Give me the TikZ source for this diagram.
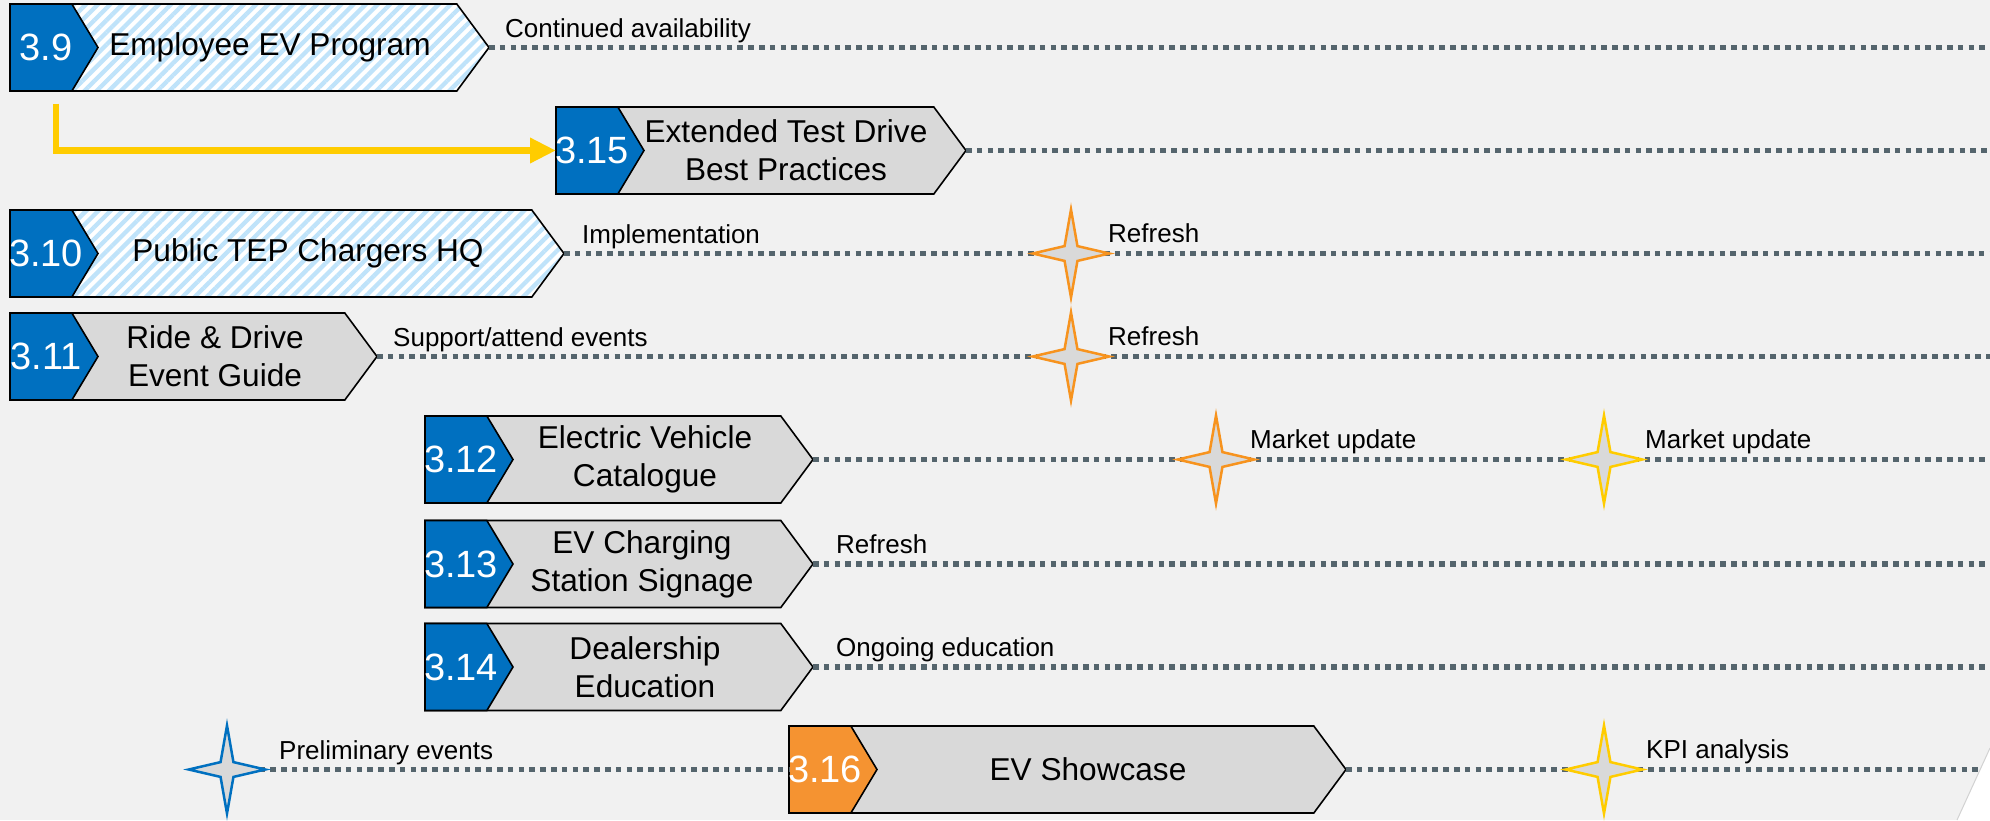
\documentclass[tikz,border=0pt]{standalone}
\usepackage{fontspec}
\setmainfont{Liberation Sans}
\usetikzlibrary{arrows.meta,positioning,shapes.symbols,shapes.geometric,patterns.meta}
\definecolor{numblue}{HTML}{0070C0}
\definecolor{numorange}{HTML}{F59331}
\definecolor{bodygray}{HTML}{D9D9D9}
\definecolor{pagegray}{HTML}{F1F1F1}
\definecolor{hatchblue}{HTML}{BFE3FA}
\definecolor{trackgray}{HTML}{55656D}
\definecolor{starorange}{HTML}{F7931E}
\definecolor{staryellow}{HTML}{FFCC00}

\begin{document}
\begin{tikzpicture}[
  x=1pt, y=-1pt,
  font=\fontsize{26}{30}\selectfont,
  chevron/.style={signal, signal to=east, signal from=nowhere, draw=black, line width=1.6pt, minimum height=87pt, inner sep=0pt, outer sep=0pt, anchor=west},
  bodybox/.style={chevron, signal pointer angle=107, fill=bodygray},
  hatchbox/.style={chevron, signal pointer angle=107, preaction={fill=white}, pattern={Lines[angle=45,distance=8.6pt,line width=4.3pt]}, pattern color=hatchblue},
  numbox/.style={chevron, signal pointer angle=118, fill=numblue, minimum width=88pt},
  numtext/.style={text=white, font=\fontsize{38}{42}\selectfont, inner sep=0pt},
  titletext/.style={align=center, font=\fontsize{31.6}{38}\selectfont, inner sep=0pt},
  note/.style={anchor=base west, inner sep=0pt},
  track/.style={trackgray, line width=5.5pt, dash pattern=on 5.5pt off 5.3pt},
  milestone/.style={star, star points=4, star point ratio=4.2, minimum size=88pt, inner sep=0pt, xscale=0.87, fill=bodygray, line width=2.5pt},
  elbow/.style={-{Triangle[length=26pt,width=24pt]}, line width=6.5pt, staryellow}
]
\useasboundingbox (0,0) rectangle (1990,820);
\fill[pagegray] (0,0) rectangle (1990,820);

\node[hatchbox, minimum width=479pt] (b39) at (10,47.5) {};
\node[numbox] (n39) at (10,47.5) {};
\node[numtext] (q39) at (46,47.5) {3.9};
\node[titletext] (t39) at (270,47.5) {Employee EV Program};

\node[bodybox, minimum width=410pt] (b315) at (556,150.5) {};
\node[numbox] (n315) at (556,150.5) {};
\node[numtext] (q315) at (592,150.5) {3.15};
\node[titletext] (t315) at (786,150.5) {Extended Test Drive\\Best Practices};

\node[hatchbox, minimum width=554pt] (b310) at (10,253.5) {};
\node[numbox] (n310) at (10,253.5) {};
\node[numtext] (q310) at (46,253.5) {3.10};
\node[titletext] (t310) at (308,253.5) {Public TEP Chargers HQ};

\node[bodybox, minimum width=367pt] (b311) at (10,356.5) {};
\node[numbox] (n311) at (10,356.5) {};
\node[numtext] (q311) at (46,356.5) {3.11};
\node[titletext] (t311) at (215,356.5) {Ride \& Drive\\Event Guide};

\node[bodybox, minimum width=388pt] (b312) at (425,459.5) {};
\node[numbox] (n312) at (425,459.5) {};
\node[numtext] (q312) at (461,459.5) {3.12};
\node[titletext] (t312) at (645,459.5) {Electric Vehicle\\Catalogue};

\node[bodybox, minimum width=388pt] (b313) at (425,564) {};
\node[numbox] (n313) at (425,564) {};
\node[numtext] (q313) at (461,564) {3.13};
\node[titletext] (t313) at (642,564) {EV Charging\\Station Signage};

\node[bodybox, minimum width=388pt] (b314) at (425,667) {};
\node[numbox] (n314) at (425,667) {};
\node[numtext] (q314) at (461,667) {3.14};
\node[titletext] (t314) at (645,667) {Dealership\\Education};

\node[bodybox, minimum width=557pt] (b316) at (789,769.5) {};
\node[numbox, fill=numorange] (n316) at (789,769.5) {};
\node[numtext] (q316) at (825,769.5) {3.16};
\node[titletext] (t316) at (1088,769.5) {EV Showcase};

\coordinate (e39) at (1990,47.5);
\coordinate (e315) at (1990,150.5);
\coordinate (e310) at (1990,253.5);
\coordinate (e311) at (1990,356.5);
\coordinate (e312) at (1990,459.5);
\coordinate (e313) at (1990,564);
\coordinate (e314) at (1990,667);
\coordinate (e316) at (1990,769.5);
\coordinate (p316) at (227,769.5);

\draw[track] (b39.east) -- (e39);
\draw[track] (b315.east) -- (e315);
\draw[track] (b310.east) -- (e310);
\draw[track] (b311.east) -- (e311);
\draw[track] (b312.east) -- (e312);
\draw[track] (b313.east) -- (e313);
\draw[track] (b314.east) -- (e314);
\draw[track] (p316) -- (b316.west);
\draw[track] (b316.east) -- (e316);

\node[milestone, draw=starorange] (s310) at (1071,253.5) {};
\node[milestone, draw=starorange] (s311) at (1071,356.5) {};
\node[milestone, draw=starorange] (s312a) at (1216,459.5) {};
\node[milestone, draw=staryellow] (s312b) at (1604,459.5) {};
\node[milestone, draw=numblue] (s316a) at (p316) {};
\node[milestone, draw=staryellow] (s316b) at (1604,769.5) {};

\draw[elbow] ([shift={(46,56)}]b39.west) |- (b315.west);

\node[note] (l39) at ([shift={(16,-10)}]b39.east) {Continued availability};
\node[note] (l310) at ([shift={(18,-10)}]b310.east) {Implementation};
\node[note] (l311) at ([shift={(16,-10)}]b311.east) {Support/attend events};
\node[note] (l313) at ([shift={(23,-11)}]b313.east) {Refresh};
\node[note] (l314) at ([shift={(23,-11)}]b314.east) {Ongoing education};
\node[note] (r310) at ([shift={(37,-11)}]s310) {Refresh};
\node[note] (r311) at ([shift={(37,-11)}]s311) {Refresh};
\node[note] (r312a) at ([shift={(34,-11)}]s312a) {Market update};
\node[note] (r312b) at ([shift={(41,-11)}]s312b) {Market update};
\node[note] (r316a) at ([shift={(52,-10)}]s316a) {Preliminary events};
\node[note] (r316b) at ([shift={(42,-11)}]s316b) {KPI analysis};

\fill[white] (1990,748) -- (1957,820) -- (1990,820) -- cycle;
\draw[gray!35, line width=1pt] (1990,748) -- (1957,820);
\end{tikzpicture}
\end{document}
